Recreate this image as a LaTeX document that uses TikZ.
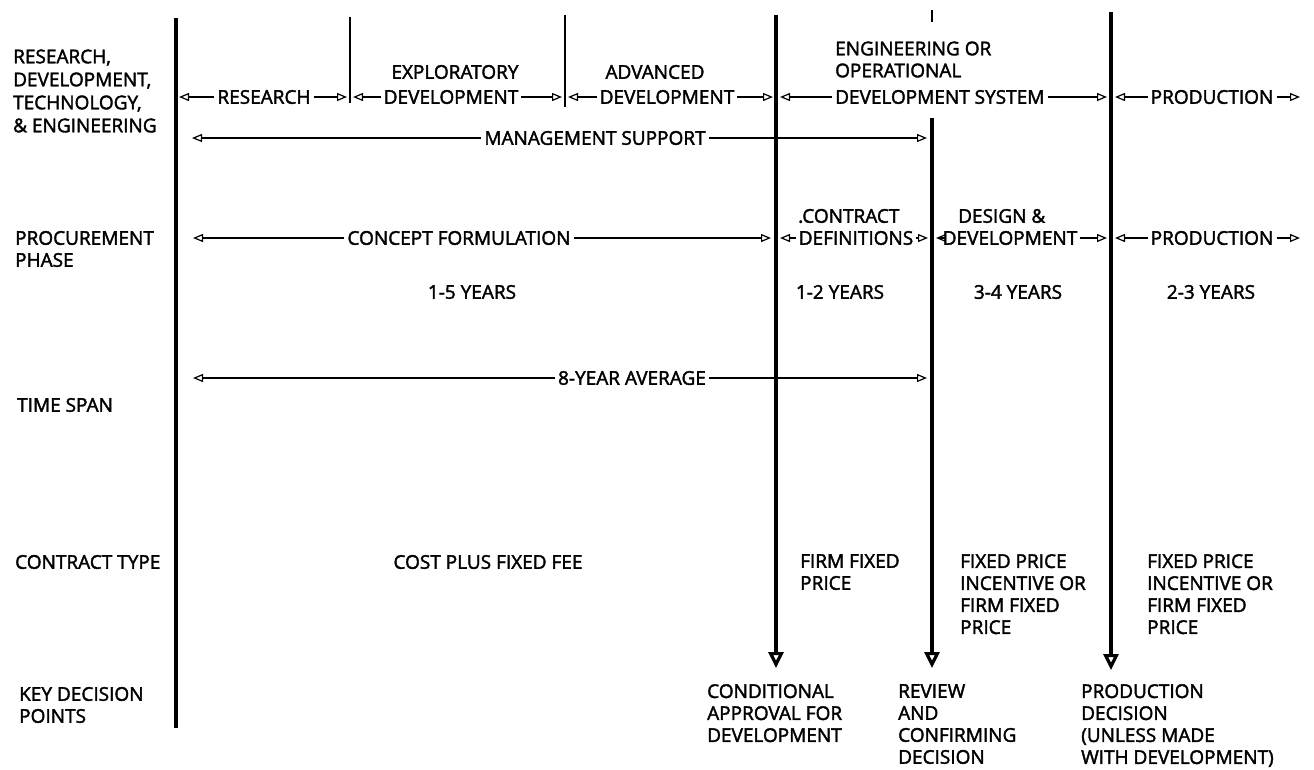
\documentclass[tikz,border=0pt]{standalone}
\usepackage{fontspec}
\newfontfamily\lab{Open Sans}[FakeBold=2]
\usetikzlibrary{arrows.meta}
\begin{document}
\begin{tikzpicture}[x=1pt,y=-1pt,
  lbl/.style={inner xsep=3pt, inner ysep=0pt, font=\lab\fontsize{19}{22}\selectfont, align=left},
  lbl23/.style={lbl, font=\lab\fontsize{19}{23}\selectfont},
  vline/.style={line width=3.4pt},
  thinv/.style={line width=2.6pt},
  harr/.style={line width=1.2pt, -{Triangle[open,length=10pt,width=8pt,line width=1.2pt]}},
  darr/.style={line width=3.4pt, -{Triangle[open,length=16pt,width=15pt,line width=3.2pt]}}]
\useasboundingbox (0,0) rectangle (1314,769);
\fill[white] (0,0) rectangle (1314,769);

% vertical lines
\coordinate (v1t) at (176,18);  \coordinate (v1b) at (176,728);
\coordinate (v2t) at (350,17);  \coordinate (v2b) at (350,103);
\coordinate (v3t) at (565,15);  \coordinate (v3b) at (565,107);
\coordinate (v4t) at (776,15);  \coordinate (v4b) at (776,668);
\coordinate (v5s) at (932,10);  \coordinate (v5e) at (932,22);
\coordinate (v5t) at (932,118); \coordinate (v5b) at (932,668);
\coordinate (v6t) at (1111,12); \coordinate (v6b) at (1111,670);
\draw[vline] (v1t) -- (v1b);
\draw[thinv] (v2t) -- (v2b);
\draw[thinv] (v3t) -- (v3b);
\draw[darr] (v4t) -- (v4b);
\draw[thinv] (v5s) -- (v5e);
\draw[darr] (v5t) -- (v5b);
\draw[darr] (v6t) -- (v6b);

% left labels
\node[lbl23, anchor=west] (hRDTE) at (10,91) {RESEARCH,\\DEVELOPMENT,\\TECHNOLOGY,\\\& ENGINEERING};
\node[lbl, anchor=west] (hProc) at (12,249) {PROCUREMENT\\PHASE};
\node[lbl, anchor=west] (hTime) at (14,405) {TIME SPAN};
\node[lbl, anchor=west] (hCont) at (12,562) {CONTRACT TYPE};
\node[lbl, anchor=west] (hKey) at (16,705) {KEY DECISION\\POINTS};

% row 1
\node[lbl] (nRes) at (264,97) {RESEARCH};
\coordinate (r1a) at (179,97); \coordinate (r1b) at (347,97);
\draw[harr] (nRes) -- (r1a); \draw[harr] (nRes) -- (r1b);

\node[lbl] (nExp) at (455,72) {EXPLORATORY};
\node[lbl] (nExpDev) at (451,97) {DEVELOPMENT};
\coordinate (r1c) at (353,97); \coordinate (r1d) at (562,97);
\draw[harr] (nExpDev) -- (r1c); \draw[harr] (nExpDev) -- (r1d);

\node[lbl] (nAdv) at (655,72) {ADVANCED};
\node[lbl] (nAdvDev) at (667,97) {DEVELOPMENT};
\coordinate (r1e) at (568,97); \coordinate (r1f) at (773,97);
\draw[harr] (nAdvDev) -- (r1e); \draw[harr] (nAdvDev) -- (r1f);

\node[lbl, anchor=west] (nEng) at (832,59.5) {ENGINEERING OR\\OPERATIONAL};
\node[lbl, anchor=west] (nEngDev) at (832,97) {DEVELOPMENT SYSTEM};
\coordinate (r1g) at (780,97); \coordinate (r1h) at (1107,97);
\draw[harr] (nEngDev) -- (r1g); \draw[harr] (nEngDev) -- (r1h);

\node[lbl] (nProd1) at (1212,97) {PRODUCTION};
\coordinate (r1i) at (1115,97); \coordinate (r1j) at (1300,97);
\draw[harr] (nProd1) -- (r1i); \draw[harr] (nProd1) -- (r1j);

% row 2
\node[lbl] (nMgmt) at (595,138) {MANAGEMENT SUPPORT};
\coordinate (r2a) at (192,138); \coordinate (r2b) at (927,138);
\draw[harr] (nMgmt) -- (r2a); \draw[harr] (nMgmt) -- (r2b);

% row 3
\node[lbl] (nConc) at (459,238) {CONCEPT FORMULATION};
\coordinate (r3a) at (193,238); \coordinate (r3b) at (771,238);
\draw[harr] (nConc) -- (r3a); \draw[harr] (nConc) -- (r3b);

\node[lbl, anchor=west] (nContr) at (795,216) {.CONTRACT};
\node[lbl] (nDef) at (856,238) {DEFINITIONS};
\coordinate (r3c) at (780,238); \coordinate (r3d) at (928,238);
\draw[harr] (nDef) -- (r3c); \draw[harr] (nDef) -- (r3d);

\node[lbl, anchor=west] (nDes) at (955,216) {DESIGN \&};
\node[lbl] (nDesDev) at (1010,238) {DEVELOPMENT};
\coordinate (r3e) at (936,238); \coordinate (r3f) at (1107,238);
\draw[harr] (nDesDev) -- (r3e); \draw[harr] (nDesDev) -- (r3f);

\node[lbl] (nProd2) at (1212,238) {PRODUCTION};
\coordinate (r3g) at (1115,238); \coordinate (r3h) at (1300,238);
\draw[harr] (nProd2) -- (r3g); \draw[harr] (nProd2) -- (r3h);

% row 4
\node[lbl] (nY1) at (472,292) {1-5 YEARS};
\node[lbl] (nY2) at (840,292) {1-2 YEARS};
\node[lbl] (nY3) at (1018,292) {3-4 YEARS};
\node[lbl] (nY4) at (1211,292) {2-3 YEARS};

% row 5
\node[lbl] (n8) at (632,378) {8-YEAR AVERAGE};
\coordinate (r5a) at (193,378); \coordinate (r5b) at (927,378);
\draw[harr] (n8) -- (r5a); \draw[harr] (n8) -- (r5b);

% contract types
\node[lbl] (nCost) at (488,562) {COST PLUS FIXED FEE};
\node[lbl, anchor=north west] (nFirm) at (797,554) {FIRM FIXED\\PRICE};
\node[lbl, anchor=north west] (nFpi1) at (957,554) {FIXED PRICE\\INCENTIVE OR\\FIRM FIXED\\PRICE};
\node[lbl, anchor=north west] (nFpi2) at (1144,554) {FIXED PRICE\\INCENTIVE OR\\FIRM FIXED\\PRICE};

% decision points
\node[lbl, anchor=north west] (nCond) at (704,684) {CONDITIONAL\\APPROVAL FOR\\DEVELOPMENT};
\node[lbl, anchor=north west] (nRev) at (895,684) {REVIEW\\AND\\CONFIRMING\\DECISION};
\node[lbl, anchor=north west] (nPD) at (1078,684) {PRODUCTION\\DECISION\\(UNLESS MADE\\WITH DEVELOPMENT)};
\end{tikzpicture}
\end{document}
